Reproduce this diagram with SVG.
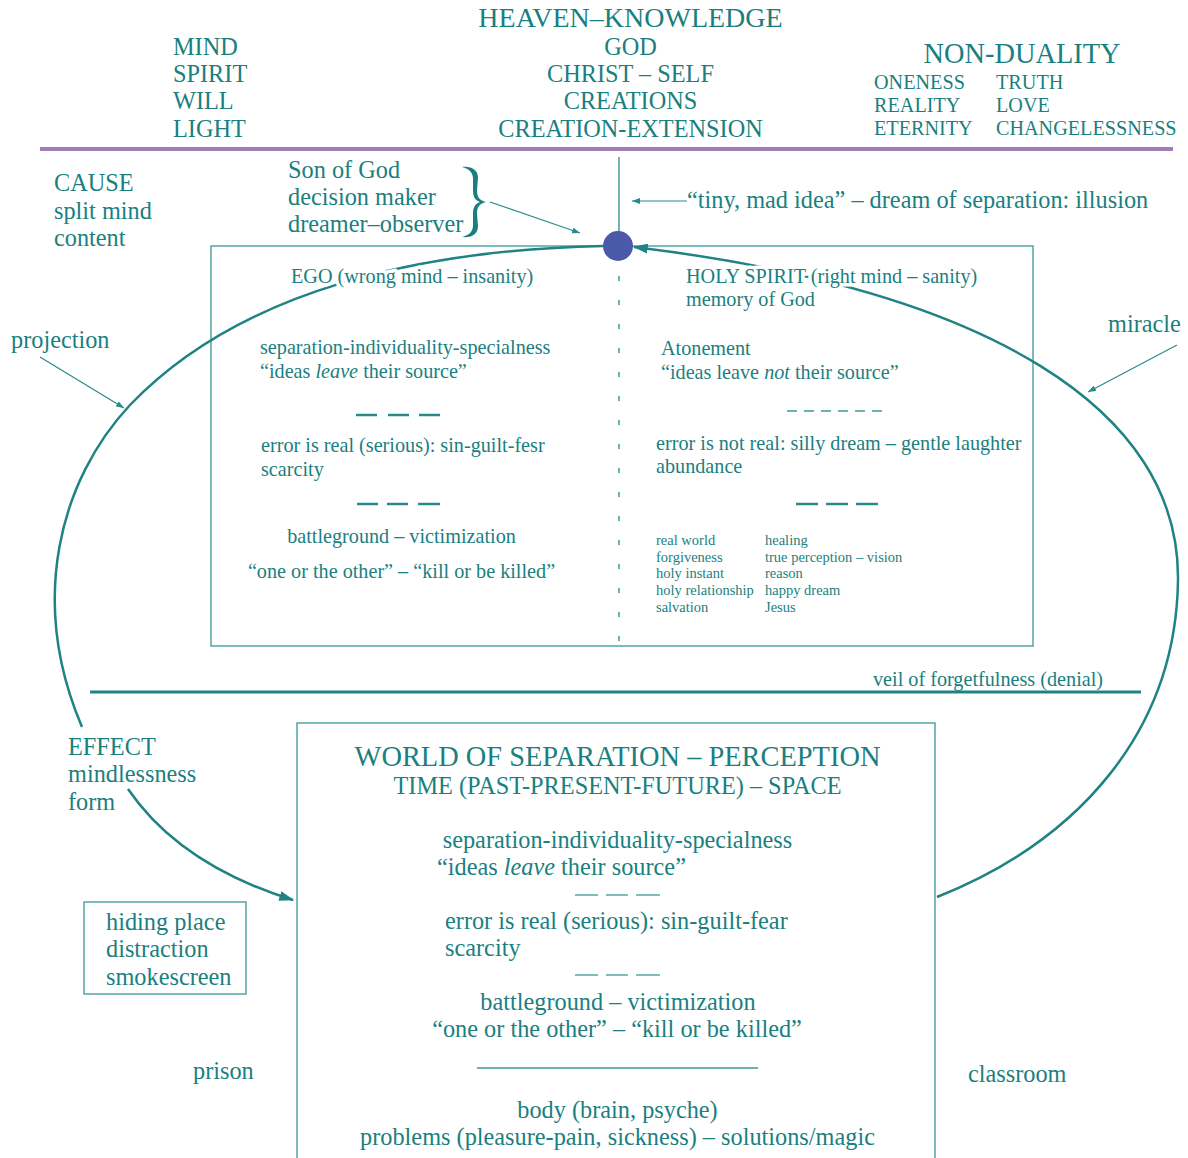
<svg xmlns="http://www.w3.org/2000/svg" width="1188" height="1158" viewBox="0 0 1188 1158">
<style>
text{font-family:"Liberation Serif","Times New Roman",serif;fill:#1a7f80}
.t28{font-size:28.4px}.t27{font-size:28px}.t24{font-size:24.3px}.t20{font-size:20.2px}.t14{font-size:14.5px}
.mid{text-anchor:middle}
.halo{paint-order:stroke;stroke:#fff;stroke-width:7px;stroke-linejoin:round}
.box{fill:none;stroke:#3a9797;stroke-width:1.3}
.thick{fill:none;stroke:#1f8383;stroke-width:2.5}
.thin{fill:none;stroke:#2a8a8a;stroke-width:1.2}
.dash{stroke:#2a8a8a;stroke-width:2.5}
.dsh{stroke:#3a9a9a;stroke-width:1.3}
</style>
<defs>
<marker id="ah" viewBox="0 0 12 8" refX="11" refY="4" markerWidth="15" markerHeight="10" markerUnits="userSpaceOnUse" orient="auto"><path d="M0,0 L12,4 L0,8 z" fill="#1f8383"/></marker>
<marker id="sa" viewBox="0 0 8 6" refX="8" refY="3" markerWidth="8" markerHeight="6" markerUnits="userSpaceOnUse" orient="auto"><path d="M0,0 L8,3 L0,6 z" fill="#2a8a8a"/></marker>
</defs>
<rect width="1188" height="1158" fill="#fff"/>

<g id="dividers">
<line x1="40" y1="149" x2="1173" y2="149" stroke="#a27db8" stroke-width="4"/>
<line x1="90" y1="692" x2="1141" y2="692" stroke="#1f8383" stroke-width="3"/>
</g>

<g id="heaven">
<text class="t27 mid" x="630.5" y="27">HEAVEN–KNOWLEDGE</text>
<text class="t24 mid" x="630.5" y="55">GOD</text>
<text class="t24 mid" x="630.5" y="82">CHRIST – SELF</text>
<text class="t24 mid" x="630.5" y="109">CREATIONS</text>
<text class="t24 mid" x="630.5" y="137">CREATION-EXTENSION</text>
</g>
<g id="mind-list">
<text class="t24" x="173" y="55">MIND</text>
<text class="t24" x="173" y="82">SPIRIT</text>
<text class="t24" x="173" y="109">WILL</text>
<text class="t24" x="173" y="137">LIGHT</text>
</g>
<g id="non-duality">
<text class="t28 mid" x="1022" y="63">NON-DUALITY</text>
<text class="t20" x="874" y="89">ONENESS</text>
<text class="t20" x="874" y="112">REALITY</text>
<text class="t20" x="874" y="135">ETERNITY</text>
<text class="t20" x="996" y="89">TRUTH</text>
<text class="t20" x="996" y="112">LOVE</text>
<text class="t20" x="996" y="135">CHANGELESSNESS</text>
</g>

<g id="cause">
<text class="t24" x="54" y="191">CAUSE</text>
<text class="t24" x="54" y="219">split mind</text>
<text class="t24" x="54" y="246">content</text>
</g>
<g id="son-of-god">
<text class="t24" x="288" y="178">Son of God</text>
<text class="t24" x="288" y="205">decision maker</text>
<text class="t24" x="288" y="232">dreamer–observer</text>
<path d="M462,167 C472,166 478,170 478,178 L477,190 C477,197 479,200 486,202 C479,204 477,207 477,214 L478,226 C478,234 472,238 462,237 C469,235 473,232 473,225 L473,214 C473,207 475,204 480,202 C475,200 473,197 473,190 L473,179 C473,172 469,169 462,167 z" fill="#1a7f80"/>
</g>
<g id="tiny-mad-idea">
<text class="t24" x="687" y="208">“tiny, mad idea” – dream of separation: illusion</text>
</g>

<g id="split-mind-box">
<rect class="box" x="211" y="246" width="822" height="400"/>
<line x1="619" y1="276" x2="619" y2="645" stroke="#3a9a9a" stroke-width="1.5" stroke-dasharray="5 19"/>
</g>

<g id="connectors">
<path class="thick" d="M603,246 C420,250 240,290 130,405 C60,480 28,600 82,727"/>
<path class="thick" d="M937,897 C1080,840 1176,730 1178,580 C1180,410 990,290 634,247" marker-end="url(#ah)"/>
<path class="thick" d="M128,789 Q180,865 293,900" marker-end="url(#ah)"/>
<line x1="619" y1="157" x2="619" y2="232" stroke="#2a8a8a" stroke-width="1.3"/>
<line class="thin" x1="687" y1="201" x2="632" y2="201" marker-end="url(#sa)"/>
<line class="thin" x1="490" y1="202" x2="580" y2="233" marker-end="url(#sa)"/>
<line class="thin" x1="40" y1="357" x2="124" y2="408" marker-end="url(#sa)"/>
<line class="thin" x1="1177" y1="345" x2="1088" y2="392" marker-end="url(#sa)"/>
</g>

<g id="decision-point">
<circle cx="618" cy="246" r="15" fill="#4a5aa8"/>
</g>

<g id="ego">
<text class="t20 halo" x="291" y="283">EGO (wrong mind – insanity)</text>
<text class="t20" x="260" y="354">separation-individuality-specialness</text>
<text class="t20" x="260" y="378">“ideas <tspan font-style="italic">leave</tspan> their source”</text>
<line class="dash" x1="356" y1="415" x2="377" y2="415"/>
<line class="dash" x1="388" y1="415" x2="409" y2="415"/>
<line class="dash" x1="419" y1="415" x2="440" y2="415"/>
<text class="t20" x="261" y="452">error is real (serious): sin-guilt-fesr</text>
<text class="t20" x="261" y="476">scarcity</text>
<line class="dash" x1="357" y1="504" x2="378" y2="504"/>
<line class="dash" x1="387" y1="504" x2="408" y2="504"/>
<line class="dash" x1="418" y1="504" x2="440" y2="504"/>
<text class="t20 mid" x="401.5" y="543">battleground – victimization</text>
<text class="t20 mid" x="401.5" y="578">“one or the other” – “kill or be killed”</text>
</g>

<g id="holy-spirit">
<text class="t20 halo" x="686" y="283">HOLY SPIRIT (right mind – sanity)</text>
<text class="t20" x="686" y="306">memory of God</text>
<text class="t20" x="661" y="355">Atonement</text>
<text class="t20" x="661" y="379">“ideas leave <tspan font-style="italic">not</tspan> their source”</text>
<line class="dsh" x1="787" y1="411" x2="884" y2="411" stroke-dasharray="10 7"/>
<text class="t20" x="656" y="450">error is not real: silly dream – gentle laughter</text>
<text class="t20" x="656" y="473">abundance</text>
<line class="dash" x1="796" y1="504" x2="818" y2="504"/>
<line class="dash" x1="826" y1="504" x2="848" y2="504"/>
<line class="dash" x1="856" y1="504" x2="878" y2="504"/>
<text class="t14" x="656" y="545">real world</text>
<text class="t14" x="656" y="562">forgiveness</text>
<text class="t14" x="656" y="578">holy instant</text>
<text class="t14" x="656" y="595">holy relationship</text>
<text class="t14" x="656" y="612">salvation</text>
<text class="t14" x="765" y="545">healing</text>
<text class="t14" x="765" y="562">true perception – vision</text>
<text class="t14" x="765" y="578">reason</text>
<text class="t14" x="765" y="595">happy dream</text>
<text class="t14" x="765" y="612">Jesus</text>
</g>

<g id="labels">
<text class="t24" x="11" y="348">projection</text>
<text class="t24" x="1108" y="332">miracle</text>
<text class="t20" x="873" y="686">veil of forgetfulness (denial)</text>
<text class="t24" x="193" y="1079">prison</text>
<text class="t24" x="968" y="1082">classroom</text>
</g>

<g id="effect">
<text class="t24" x="68" y="755">EFFECT</text>
<text class="t24" x="68" y="782">mindlessness</text>
<text class="t24" x="68" y="810">form</text>
</g>

<g id="hiding-place">
<rect class="box" x="84" y="902" width="162" height="92"/>
<text class="t24" x="106" y="930">hiding place</text>
<text class="t24" x="106" y="957">distraction</text>
<text class="t24" x="106" y="985">smokescreen</text>
</g>

<g id="world">
<rect class="box" x="297" y="723" width="638" height="450"/>
<text class="t28 mid" x="617.5" y="766">WORLD OF SEPARATION – PERCEPTION</text>
<text class="t24 mid" x="617.5" y="794">TIME (PAST-PRESENT-FUTURE) – SPACE</text>
<text class="t24 mid" x="617.5" y="848">separation-individuality-specialness</text>
<text class="t24" x="437" y="875">“ideas <tspan font-style="italic">leave</tspan> their source”</text>
<line class="dsh" x1="575" y1="895" x2="598" y2="895"/>
<line class="dsh" x1="606" y1="895" x2="628" y2="895"/>
<line class="dsh" x1="636" y1="895" x2="660" y2="895"/>
<text class="t24" x="445" y="929">error is real (serious): sin-guilt-fear</text>
<text class="t24" x="445" y="956">scarcity</text>
<line class="dsh" x1="575" y1="975" x2="598" y2="975"/>
<line class="dsh" x1="606" y1="975" x2="628" y2="975"/>
<line class="dsh" x1="636" y1="975" x2="660" y2="975"/>
<text class="t24 mid" x="618" y="1010">battleground – victimization</text>
<text class="t24 mid" x="617" y="1037">“one or the other” – “kill or be killed”</text>
<line class="dsh" x1="477" y1="1068" x2="758" y2="1068"/>
<text class="t24 mid" x="617.5" y="1118">body (brain, psyche)</text>
<text class="t24 mid" x="617.5" y="1145">problems (pleasure-pain, sickness) – solutions/magic</text>
</g>
</svg>
